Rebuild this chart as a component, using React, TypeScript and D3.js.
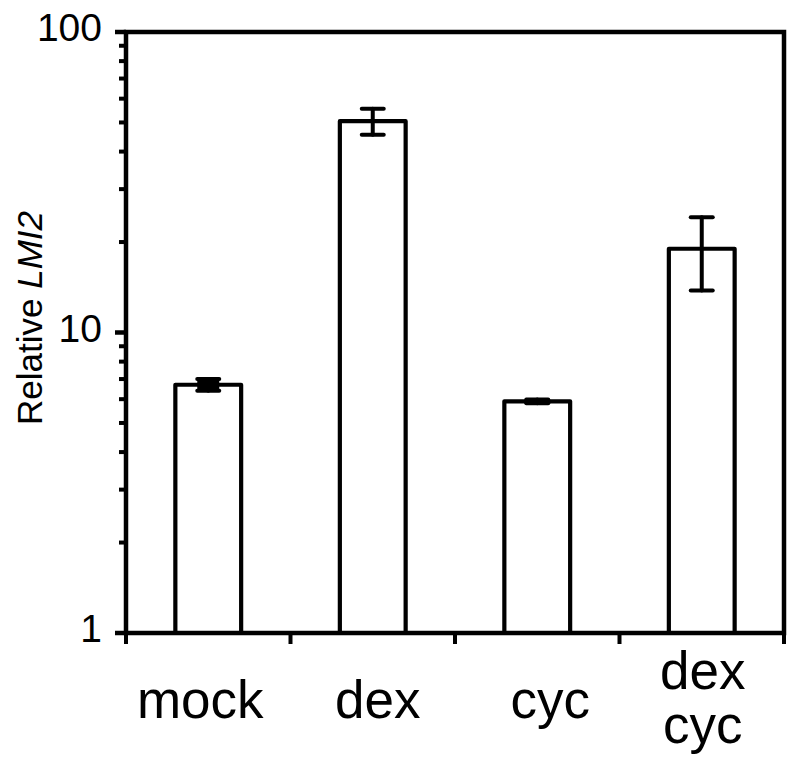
import React from "react";
import * as d3 from "d3";

const categories: string[][] = [["mock"], ["dex"], ["cyc"], ["dex", "cyc"]];
const values: number[] = [6.7, 50.5, 5.9, 19.0];
const errors: number[] = [0.3, 5.0, 0.08, 5.2];
const majorTicks: number[] = [1, 10, 100];
const tickLabels: string[] = ["1", "10", "100"];

// layout only: horizontal nudges of the category labels, in px
const labelNudge: number[] = [-8, 5, 13, 1];

const W = 800;
const H = 768;
const left = 126;
const right = 784;
const top = 32;
const bottom = 633;
const font = "'Liberation Sans', Arial, Helvetica, sans-serif";

export default function App() {
  const y = d3.scaleLog().domain([1, 100]).range([bottom, top]);
  const x = d3
    .scaleBand<number>()
    .domain(categories.map((_, i) => i))
    .range([left, right])
    .padding(0);
  const bw = x.bandwidth() * 0.4;
  const capW = 22;

  const minorTicks: number[] = [];
  for (const base of [1, 10]) {
    for (let k = 2; k <= 9; k++) minorTicks.push(base * k);
  }
  const boundaries = categories.map((_, i) => x(i) as number).concat([right]);

  return (
    <svg
      width={W}
      height={H}
      style={{ position: "absolute", left: 0, top: 0, background: "#fff" }}
    >
      <rect x={0} y={0} width={W} height={H} fill="#fff" />
      {/* bars */}
      {values.map((v, i) => {
        const cx = (x(i) as number) + x.bandwidth() / 2;
        return (
          <rect
            key={"b" + i}
            x={cx - bw / 2}
            y={y(v)}
            width={bw}
            height={bottom - y(v)}
            fill="#fff"
            stroke="#000"
            strokeWidth={4.2}
            strokeLinejoin="round"
          />
        );
      })}
      {/* error bars */}
      {values.map((v, i) => {
        const cx = (x(i) as number) + x.bandwidth() / 2;
        const hi = y(v + errors[i]);
        const lo = y(v - errors[i]);
        return (
          <g key={"e" + i} stroke="#000" strokeWidth={4} strokeLinecap="round">
            <line x1={cx} x2={cx} y1={hi} y2={lo} />
            <line x1={cx - capW / 2} x2={cx + capW / 2} y1={hi} y2={hi} />
            <line x1={cx - capW / 2} x2={cx + capW / 2} y1={lo} y2={lo} />
            {errors[i] / v < 0.08 ? (
              <rect
                x={cx - capW / 2}
                y={hi}
                width={capW}
                height={lo - hi}
                fill="#000"
                stroke="none"
              />
            ) : null}
          </g>
        );
      })}
      {/* frame */}
      <rect
        x={left}
        y={top}
        width={right - left}
        height={bottom - top}
        fill="none"
        stroke="#000"
        strokeWidth={4.5}
      />
      {/* y ticks */}
      {majorTicks.map((t) => (
        <line
          key={"M" + t}
          x1={left - 11}
          x2={left}
          y1={y(t)}
          y2={y(t)}
          stroke="#000"
          strokeWidth={4.5}
        />
      ))}
      {minorTicks.map((t) => (
        <line
          key={"m" + t}
          x1={left - 7}
          x2={left}
          y1={y(t)}
          y2={y(t)}
          stroke="#000"
          strokeWidth={4}
        />
      ))}
      {majorTicks.map((t, i) => (
        <text
          key={"t" + t}
          x={102}
          y={y(t) + 9}
          textAnchor="end"
          fontFamily={font}
          fontSize={39}
          fill="#000"
        >
          {tickLabels[i]}
        </text>
      ))}
      {/* x ticks */}
      {boundaries.map((b, i) => (
        <line
          key={"x" + i}
          x1={b}
          x2={b}
          y1={bottom}
          y2={bottom + 11}
          stroke="#000"
          strokeWidth={4}
        />
      ))}
      {/* x labels */}
      {categories.map((lines, i) => {
        const cx = (x(i) as number) + x.bandwidth() / 2 + labelNudge[i];
        const n = lines.length;
        return lines.map((s, j) => (
          <text
            key={"l" + i + j}
            x={cx}
            y={n === 1 ? 718 : 689 + j * 54}
            textAnchor="middle"
            fontFamily={font}
            fontSize={53}
            fill="#000"
          >
            {s}
          </text>
        ));
      })}
      {/* y axis title */}
      <text
        transform={`translate(42, ${318}) rotate(-90)`}
        textAnchor="middle"
        fontFamily={font}
        fontSize={35}
        fill="#000"
      >
        Relative <tspan fontStyle="italic">LMI2</tspan>
      </text>
    </svg>
  );
}
